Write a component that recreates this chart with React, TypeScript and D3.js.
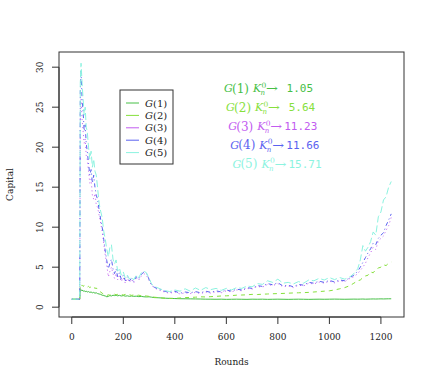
import React from "react";
import * as d3 from "d3";

const rounds = [0, 31, 33, 36, 40, 44, 48, 52, 56, 60,
  65, 70, 75, 80, 85, 90, 95, 100,
  106, 112, 118, 124, 130, 136, 142, 148, 154, 160,
  166, 172, 178, 185, 192, 200, 208, 216, 224, 232,
  240, 250, 260, 270, 280, 290, 300, 310, 320, 335,
  350, 365, 380, 400, 420, 440, 460, 480, 500, 520,
  540, 560, 580, 600, 620, 640, 660, 680, 700, 720,
  740, 760, 780, 800, 820, 840, 860, 880, 900, 920,
  940, 960, 980, 1000, 1020, 1040, 1060, 1080, 1095, 1110,
  1120, 1130, 1140, 1150, 1160, 1170, 1180, 1190, 1200, 1210,
  1220, 1230, 1240];

const g1 = [1, 1, 2.2, 2.1, 2.15, 2.0, 2.05, 1.95, 2.0, 1.9,
  1.95, 1.85, 1.9, 1.8, 1.85, 1.75, 1.8, 1.7,
  1.65, 1.6, 1.5, 1.45, 1.4, 1.3, 1.35, 1.45, 1.4, 1.5,
  1.45, 1.5, 1.42, 1.48, 1.4, 1.45, 1.38, 1.42, 1.35, 1.4,
  1.35, 1.38, 1.32, 1.35, 1.3, 1.28, 1.3, 1.25, 1.2, 1.18,
  1.15, 1.12, 1.1, 1.08, 1.06, 1.05, 1.04, 1.03, 1.02, 1.0,
  1.0, 0.99, 1.0, 0.98, 0.99, 1.0, 0.99, 0.98, 1.0, 0.99,
  1.0, 0.98, 0.99, 1.0, 0.99, 0.98, 0.99, 1.0, 0.99, 0.98,
  0.99, 1.0, 0.99, 1.0, 1.01, 1.0, 0.99, 1.0, 1.01, 1.0,
  1.01, 1.02, 1.0, 1.01, 1.02, 1.03, 1.02, 1.03, 1.04, 1.03,
  1.04, 1.05, 1.05];

const g2 = [1, 1, 2.8, 2.7, 2.75, 2.6, 2.7, 2.55, 2.6, 2.5,
  2.6, 2.45, 2.55, 2.4, 2.5, 2.35, 2.4, 2.2,
  2.0, 1.9, 1.75, 1.6, 1.5, 1.45, 1.55, 1.5, 1.6, 1.55,
  1.62, 1.55, 1.6, 1.5, 1.58, 1.52, 1.6, 1.5, 1.55, 1.48,
  1.52, 1.45, 1.5, 1.42, 1.45, 1.4, 1.35, 1.3, 1.25, 1.2,
  1.15, 1.12, 1.1, 1.1, 1.15, 1.2, 1.22, 1.25, 1.3, 1.28,
  1.32, 1.35, 1.4, 1.42, 1.45, 1.5, 1.52, 1.55, 1.6, 1.58,
  1.62, 1.65, 1.68, 1.7, 1.72, 1.75, 1.78, 1.8, 1.82, 1.85,
  1.9, 1.95, 2.0, 2.05, 2.15, 2.3, 2.45, 2.7, 3.0, 3.3,
  3.4, 3.7, 3.9, 4.0, 4.4, 4.3, 4.7, 4.9, 5.0, 5.3,
  5.2, 5.5, 5.64];

const g3 = [1, 1, 24, 26, 23.5, 22, 20.5, 21, 19, 18.5,
  17, 15.5, 16, 14, 13.5, 14.2, 12.8, 12.5,
  11.5, 10.5, 9.5, 8, 6.5, 5.2, 3.8, 4.5, 5.0, 4.2,
  3.6, 4.2, 3.4, 3.9, 3.2, 3.7, 3.0, 3.6, 3.1, 3.5,
  3.0, 3.6, 3.4, 3.9, 4.2, 4.0, 3.3, 2.7, 2.4, 2.2,
  2.0, 1.85, 1.75, 1.9, 1.65, 1.8, 1.7, 1.85, 1.7, 1.9,
  1.75, 1.95, 1.8, 2.05, 1.9, 2.15, 2.05, 2.35, 2.25, 2.6,
  2.5, 2.85, 2.7, 2.95, 2.55, 2.65, 2.45, 2.75, 2.65, 3.0,
  2.9, 3.15, 3.0, 3.25, 3.05, 3.3, 3.2, 3.6, 3.8, 4.2,
  4.6, 5.0, 5.5, 6.2, 6.8, 7.5, 7.2, 8.3, 8.6, 8.9,
  9.6, 10.2, 11.23];

const g4 = [1, 1, 27, 29.5, 26, 24.5, 22, 22.8, 20.5, 19.5,
  18, 16.5, 17.2, 15.5, 16.5, 15, 14, 13.5,
  12.2, 11, 10, 8.5, 7, 5.8, 4.8, 5.5, 6.0, 4.8,
  4.2, 4.8, 3.8, 4.3, 3.5, 4.0, 3.3, 3.8, 3.3, 3.6,
  3.2, 3.8, 3.5, 4.1, 4.4, 4.2, 3.5, 2.8, 2.5, 2.3,
  2.1, 1.95, 1.85, 2.0, 1.75, 1.9, 1.8, 1.95, 1.8, 2.0,
  1.85, 2.05, 1.9, 2.15, 2.0, 2.25, 2.15, 2.45, 2.35, 2.7,
  2.6, 2.95, 2.8, 3.05, 2.65, 2.75, 2.55, 2.85, 2.75, 3.1,
  3.0, 3.25, 3.1, 3.35, 3.15, 3.4, 3.3, 3.7, 4.0, 4.5,
  5.0, 5.6, 6.2, 6.8, 7.3, 8.0, 7.8, 8.6, 9.0, 9.3,
  10.2, 10.9, 11.66];

const g5 = [1, 1, 28, 30.5, 28, 26, 24, 25, 22.5, 22,
  20, 18.5, 19.5, 17.5, 18.5, 17, 16.5, 15,
  13, 12, 11.2, 9.5, 8.5, 7.2, 6.3, 7.5, 7.8, 6.0,
  5.4, 5.9, 4.5, 4.9, 4.0, 4.4, 3.6, 4.0, 3.5, 3.8,
  3.4, 4.0, 3.7, 4.3, 4.5, 4.3, 3.6, 2.9, 2.6, 2.4,
  2.2, 2.05, 1.95, 2.15, 2.0, 2.3, 2.0, 2.4, 2.1, 2.45,
  2.2, 2.35, 2.1, 2.35, 2.15, 2.45, 2.35, 2.65, 2.55, 2.95,
  2.85, 3.3, 3.1, 3.5, 3.0, 3.1, 2.9, 3.2, 3.0, 3.4,
  3.3, 3.6, 3.4, 3.7, 3.45, 3.7, 3.5, 3.8, 4.2, 4.8,
  5.9, 7.7, 7.0, 7.5, 8.2, 9.4, 9.0, 11.3, 11.9, 13.4,
  13.8, 15.0, 15.71];

const seriesValues = [g1, g2, g3, g4, g5];
const seriesNames = ["1", "2", "3", "4", "5"];
const finalLabels = [" 1.05", " 5.64", "11.23", "11.66", "15.71"];
const colors = ["#46c046", "#86e03c", "#c25cf0", "#5a62f0", "#8cf3e0"];
const dashes = ["", "4,4", "1,3", "1,3,4,3", "7,3"];

const xTicks = [0, 200, 400, 600, 800, 1000, 1200];
const yTicks = [0, 5, 10, 15, 20, 25, 30];

const W = 436, H = 382;
const L = 59, R = 404, T = 52, B = 317;

export default function App() {
  const xMin = 0, xMax = 1240, yMin = 0, yMax = 30.67;
  const xp = 0.04 * (xMax - xMin), yp = 0.04 * (yMax - yMin);
  const x = d3.scaleLinear().domain([xMin - xp, xMax + xp]).range([L, R]);
  const y = d3.scaleLinear().domain([yMin - yp, yMax + yp]).range([B, T]);
  const line = d3.line<number>().x((_, i) => x(rounds[i])).y((d) => y(d));
  const serif = "DejaVu Serif";
  const mono = "DejaVu Sans Mono";
  const axisCol = "#333";

  return (
    <svg width={W} height={H} style={{ position: "absolute", left: 0, top: 0, background: "#fff" }}
      fontFamily={serif}>
      {seriesValues.map((vals, k) => (
        <path key={k} d={line(vals) || ""} fill="none" stroke={colors[k]} strokeWidth={1}
          strokeDasharray={dashes[k] || undefined} />
      ))}
      <rect x={L} y={T} width={R - L} height={B - T} fill="none" stroke={axisCol} strokeWidth={1} />
      <line x1={x(xTicks[0])} x2={x(xTicks[xTicks.length - 1])} y1={B} y2={B} stroke={axisCol} />
      {xTicks.map((t) => (
        <g key={t}>
          <line x1={x(t)} x2={x(t)} y1={B} y2={B + 7} stroke={axisCol} />
          <text x={x(t)} y={340} fontSize={9} textAnchor="middle" fill="#222">{t}</text>
        </g>
      ))}
      <line x1={L} x2={L} y1={y(yTicks[0])} y2={y(yTicks[yTicks.length - 1])} stroke={axisCol} />
      {yTicks.map((t) => (
        <g key={t}>
          <line x1={L - 7} x2={L} y1={y(t)} y2={y(t)} stroke={axisCol} />
          <text transform={`translate(43,${y(t)}) rotate(-90)`} fontSize={9} textAnchor="middle" fill="#222">{t}</text>
        </g>
      ))}
      <text x={(L + R) / 2} y={365} fontSize={9} textAnchor="middle" fill="#222">Rounds</text>
      <text transform={`translate(13,${(T + B) / 2}) rotate(-90)`} fontSize={9} textAnchor="middle" fill="#222">Capital</text>

      <rect x={120} y={90} width={53} height={74} fill="#fff" stroke={axisCol} strokeWidth={1} />
      {seriesNames.map((n, k) => {
        const ly = 103 + k * 12.4;
        return (
          <g key={n}>
            <line x1={126} x2={139} y1={ly} y2={ly} stroke={colors[k]} strokeWidth={1} />
            <text x={145} y={ly + 3.5} fontSize={10} fill="#222">
              <tspan fontStyle="italic">G</tspan>
              <tspan>({n})</tspan>
            </text>
          </g>
        );
      })}

      {seriesNames.map((n, k) => {
        const x0 = 224 + k * 2.1;
        const by = 92.3 + k * 18.85;
        const c = colors[k];
        return (
          <g key={n} fill={c}>
            <text x={x0} y={by} fontSize={11} fontStyle="italic">G</text>
            <text x={x0 + 8} y={by + 0.5} fontSize={12}>({n})</text>
            <text x={x0 + 29} y={by} fontSize={11} fontStyle="italic">K</text>
            <text x={x0 + 37.5} y={by - 4.5} fontSize={7.5}>0</text>
            <text x={x0 + 36.5} y={by + 3} fontSize={7} fontStyle="italic">n</text>
            <text x={x0 + 42} y={by} fontSize={11} transform={`translate(${x0 + 42},0) scale(1.3,1) translate(${-(x0 + 42)},0)`}>→</text>
            <text x={x0 + 56} y={by} fontSize={11} fontFamily={mono} style={{ whiteSpace: "pre" }}>{finalLabels[k]}</text>
          </g>
        );
      })}
    </svg>
  );
}
